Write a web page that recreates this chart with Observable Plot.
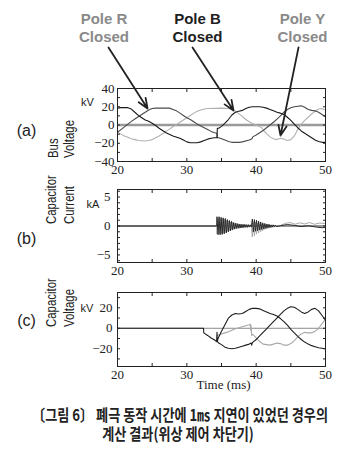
<!DOCTYPE html>
<html><head><meta charset="utf-8">
<script src="https://cdn.jsdelivr.net/npm/d3@7"></script>
<script src="https://cdn.jsdelivr.net/npm/@observablehq/plot@0.6"></script>
<style>
html,body{margin:0;padding:0;background:#fff;overflow:hidden;}
#fig{position:relative;width:356px;height:450px;overflow:hidden;background:#fff;}
.panel{position:absolute;left:0;}
.cap{position:absolute;left:0;width:356px;text-align:center;font-family:"Noto Sans CJK KR",sans-serif;font-weight:700;font-size:16px;line-height:19px;color:#222;transform:scaleX(0.82);transform-origin:center;white-space:nowrap;}
.vlab{position:absolute;font-family:'Liberation Sans',Arial,sans-serif;font-size:15px;line-height:15px;color:#222;white-space:nowrap;transform-origin:0 0;transform:rotate(-90deg) scaleX(0.76);}
</style></head><body><div id="fig"></div><script>
// ---------- data ----------
const timeTicks = [20, 30, 40, 50];
const timeMinor = [20, 25, 30, 35, 40, 45, 50];
const busTicks = [-40, -20, 0, 20, 40];
const busMinor = [-30, -20, -10, 0, 10, 20, 30];
const currentTicks = [-5, 0, 5];
const currentMinor = [-6, -5, -4, -3, -2, -1, 0, 1, 2, 3, 4, 5, 6];
const capTicks = [-20, 0, 20];
const capMinor = [-30, -20, -10, 0, 10, 20, 30];

// (a) bus voltage [ms, kV]
const busA = [[20,18.5],[20.5,19],[21.5,19],[22,17.5],[22.5,14],[23,10.5],[23.5,8],[24,5.5],[24.5,4],[25,2],[25.5,-0.5],[26,-3.5],[26.5,-6],[27,-8.5],[28,-12],[29,-14.5],[29.5,-16.5],[30,-18.5],[30.5,-19.5],[31.5,-19.5],[32,-18.5],[32.5,-17],[33,-15.5],[33.5,-14.5],[34,-14],[34.35,-14],[34.4,-3.5],[34.6,-3.5],[35,-1.5],[35.5,2],[36,6],[36.5,11],[37,14],[37.5,15],[38,16],[38.5,18],[39,19.5],[39.5,20],[40.5,20],[41,19.5],[41.5,18.5],[42,17],[42.5,15.5],[43,14],[43.5,13],[44,11.5],[44.5,8.5],[45,5],[45.5,1],[46,-3],[46.5,-6.5],[47,-9],[47.5,-11.5],[48,-14],[48.5,-16.5],[49,-18],[49.5,-19],[50,-19]];
const busB = [[20,-8],[20.5,-5],[21,-2],[21.5,1],[22,4],[22.5,6.5],[23,9],[23.5,11.5],[24,14],[24.5,16.5],[25,18],[25.5,18.5],[27.5,18.5],[28,17],[28.5,15.5],[29,13],[29.5,10.5],[30,8],[30.5,6],[31,3.5],[31.5,1],[32,-1],[32.5,-3],[33,-5],[33.5,-7],[34,-8.5],[34.35,-9],[34.4,-14],[34.6,-14],[35,-15],[35.5,-16.5],[36,-18],[36.5,-19],[37.5,-19],[38,-18.5],[39,-16.5],[39.4,-15],[39.5,-13],[40,-11],[40.5,-8.5],[41,-6],[41.5,-3],[42,0],[42.5,3],[43,6.5],[43.5,10],[44,14],[44.5,17],[45,19],[45.5,20],[46,20.5],[46.5,21],[47,19.5],[47.5,17],[48,16],[48.5,15.5],[49,14],[49.5,11.5],[50,9]];
const busC = [[20,-8],[20.5,-10],[21,-12],[21.5,-13.5],[22,-15],[22.5,-16],[23,-17],[24,-17.5],[24.5,-17],[25,-16],[25.5,-14],[26,-12],[26.5,-9.5],[27,-7],[27.5,-4.5],[28,-2],[28.5,0.5],[29,3],[29.5,5.5],[30,8],[30.5,10.5],[31,13],[31.5,15],[32,16.5],[32.5,17.5],[33,18],[35,18.5],[36,18],[36.5,17],[37,15],[37.5,12.5],[38,9.5],[38.5,6],[39,3.5],[39.5,1.5],[40,0],[40.5,-1.5],[40.8,-3],[41,-5.5],[41.5,-9.5],[42,-13],[42.5,-15],[43,-16],[43.5,-14.5],[44,-15.5],[44.5,-17],[45,-16],[45.5,-12],[46,-5],[46.5,1],[47,5],[47.5,8.5],[48,12],[48.5,15],[49,17.5],[49.5,18],[50,16.5]];

// (b) capacitor current, kA: quiet part, successive oscillation peaks, slow tail
const peakStep = 0.15; // ms between successive oscillation peaks
const burst1Start = 34.35, burst2Start = 39.45;
const iDarkBurst1 = [1.6,-1.5,1.6,-1.5,1.5,-1.45,1.4,-1.35,1.3,-1.2,1.1,-1.0,0.95,-0.85,0.8,-0.7,0.6,-0.55,0.5,-0.45,0.4,-0.4,0.35,-0.35,0.3,-0.3,0.3,-0.25,0.25,-0.25,0.25,-0.2,0.2,-0.15];
const iDarkBurst2 = [1.2,-1.0,1.1,-0.9,1.0,-0.8,0.85,-0.7,0.7,-0.6,0.55,-0.5,0.45,-0.4,0.35,-0.3,0.3,-0.25,0.2,-0.2,0.2,-0.15,0.15,-0.1];
const iDarkTail = [[43.5,0.05],[44.5,0.25],[45.5,0.1],[46.5,-0.1],[47.5,0.05],[48.5,-0.15],[49.5,-0.3],[50,-0.25]];
const iGrayBurst1 = [-1.4,1.3,-1.4,1.3,-1.3,1.25,-1.2,1.15,-1.1,1.0,-0.95,0.85,-0.8,0.7,-0.65,0.6,-0.5,0.45,-0.4,0.4,-0.35,0.3,-0.3,0.25,-0.25,0.2,-0.2,0.2,-0.15,0.15,-0.15,0.1,-0.1,0.1];
const iGrayBurst2 = [-1.9,0.7,-1.7,0.6,-1.4,0.5,-1.2,0.4,-1.0,0.35,-0.8,0.3,-0.6,0.25,-0.5,0.2,-0.4,0.15,-0.3,0.1,-0.2,0.1,-0.15,0.05];
const iGrayTail = [[43.5,0.1],[44.2,0.45],[44.9,0.6],[45.6,0.3],[46.3,0.55],[47,0.35],[47.7,0.6],[48.4,0.3],[49.1,0.5],[49.8,0.45],[50,0.4]];
const iQuiet = [[20,0],[34.3,0]];

// (c) capacitor voltage [ms, kV]
const capA = [[20,0],[32.4,0],[32.45,-4.5],[33,-7],[33.5,-9.5],[34,-11.5],[34.3,-13],[34.35,-4],[34.4,-13],[34.5,-10],[35,-3],[35.5,3.5],[36,10],[36.5,13],[37,14.5],[37.5,14],[38,14.5],[38.5,16.5],[39,18.5],[39.5,19.5],[40,19.5],[40.5,19],[41,17.5],[41.5,16],[42,14.5],[42.5,13.5],[43,12],[43.5,9.5],[44,6.5],[44.5,3],[45,-1],[45.5,-4.5],[46,-8],[46.5,-11],[47,-13.5],[47.5,-15.5],[48,-17],[48.5,-18],[49,-19],[49.5,-19.5],[50,-20]];
const capB = [[34.4,-13],[34.6,-14.5],[35,-16],[35.5,-18.5],[36,-19.5],[36.5,-20],[37,-19.5],[37.5,-18.5],[38,-17.5],[38.5,-16.5],[39,-15.5],[39.3,-14.5],[39.35,-16.5],[39.45,-14],[40,-11],[40.5,-7.5],[41,-4],[41.5,-0.5],[42,3],[42.5,6.5],[43,10],[43.5,13.5],[44,17],[44.5,19.5],[45,21],[45.5,20.5],[46,18.5],[46.5,16],[47,14.5],[47.5,16],[48,18.5],[48.5,19.5],[49,17],[49.5,12.5],[50,8]];
const capC = [[34.4,-7],[35,-5.5],[35.5,-4.5],[36,-3.5],[36.5,-2],[37,-0.5],[37.5,0.5],[38,1.5],[38.5,2.5],[39,3.5],[39.15,4],[39.2,-2],[39.25,3],[39.35,-7],[39.5,-6],[40,-9.5],[40.5,-13],[41,-15.5],[41.5,-16],[42,-16.5],[42.5,-15.5],[43,-14.5],[43.5,-15],[44,-16.5],[44.5,-16.5],[45,-15],[45.5,-12],[46,-8.5],[46.5,-5.5],[47,-4],[47.5,-4.5],[48,-4.5],[48.5,-3],[49,0],[49.5,4.5],[50,9]];

// pole-closing annotations (label / arrow start above the plot, arrow tip on the curve)
const poles = [
  {label: "Pole R\nClosed", color: "#8a8a8a", labelT: 18.05, fromT: 18.7, tipT: 24.33, tipV: 18.1},
  {label: "Pole B\nClosed", color: "#1e1e1e", labelT: 31.54, fromT: 30.82, tipT: 36.73, tipV: 15.9},
  {label: "Pole Y\nClosed", color: "#8a8a8a", labelT: 46.68, fromT: 46.11, tipT: 43.51, tipV: -11.5}
];
const poleLabelV = 91.5, poleArrowFromV = 85;

// ---------- helpers ----------
const serif = "'Liberation Serif','Times New Roman',serif";
const sans = "'Liberation Sans',Arial,sans-serif";
const ink = "#222";

function withPeaks(quiet, bursts, tail) {
  const out = quiet.slice();
  for (const [start, peaks] of bursts) peaks.forEach((v, i) => out.push([start + i * peakStep, v]));
  return out.concat(tail);
}
const currentDark = withPeaks(iQuiet, [[burst1Start, iDarkBurst1], [burst2Start, iDarkBurst2]], iDarkTail);
const currentGray = withPeaks(iQuiet, [[burst1Start, iGrayBurst1], [burst2Start, iGrayBurst2]], iGrayTail);

function frameMarks(yMinor) {
  return [
    Plot.frame({stroke: ink, strokeWidth: 1}),
    Plot.axisX(timeMinor, {anchor: "bottom", tickSize: 3, dy: -3, fill: "none", stroke: ink, label: null}),
    Plot.axisX(timeMinor, {anchor: "top", tickSize: 3, dy: 3, fill: "none", stroke: ink, label: null}),
    Plot.axisY(yMinor, {anchor: "left", tickSize: 3, dx: 3, fill: "none", stroke: ink, label: null}),
    Plot.axisY(yMinor, {anchor: "right", tickSize: 3, dx: -3, fill: "none", stroke: ink, label: null})
  ];
}
function tickLabels(yTicks, yPad) {
  return [
    Plot.axisX(timeTicks, {anchor: "bottom", tickSize: 0, tickPadding: 3, fontSize: 13, fontFamily: serif, fill: ink, label: null}),
    Plot.axisY(yTicks, {anchor: "left", tickSize: 0, tickPadding: yPad, fontSize: 13, fontFamily: serif, fill: ink, label: null})
  ];
}
function tagAndUnit(tag, unit) {
  return [
    Plot.text([tag.text], {frameAnchor: "left", dx: tag.dx, dy: tag.dy, fontSize: 16, fontFamily: sans, fill: ink, textAnchor: "middle", lineAnchor: "middle"}),
    Plot.text([unit.text], {frameAnchor: "top-left", dx: unit.dx, dy: unit.dy, fontSize: 11, fontFamily: sans, fill: ink, textAnchor: "middle", lineAnchor: "middle"})
  ];
}
const common = {width: 356, marginLeft: 117, marginRight: 31, x: {domain: [20, 50]}, style: {background: "transparent", fontFamily: serif, fontSize: "13px", color: ink, overflow: "visible"}};

// ---------- (a) ----------
const plotA = Plot.plot({
  ...common, height: 180, marginTop: 88, marginBottom: 19,
  y: {domain: [-40, 40]}, color: {type: "identity"},
  marks: [
    Plot.ruleY([0], {stroke: "#9a9a9a", strokeWidth: 2.5}),
    Plot.line(busC, {x: d => d[0], y: d => d[1], stroke: "#b0b0b0", strokeWidth: 1.1}),
    Plot.line(busB, {x: d => d[0], y: d => d[1], stroke: "#4a4a4a", strokeWidth: 1.1}),
    Plot.line(busA, {x: d => d[0], y: d => d[1], stroke: "#1a1a1a", strokeWidth: 1.1}),
    ...frameMarks(busMinor),
    ...tickLabels(busTicks, 3),
    ...tagAndUnit({text: "(a)", dx: -91, dy: 5.5}, {text: "kV", dx: -30, dy: 14}),
    Plot.arrow(poles, {x1: "fromT", y1: () => poleArrowFromV, x2: "tipT", y2: "tipV", stroke: "#222", strokeWidth: 1.8, headLength: 9, headAngle: 45}),
    Plot.text(poles, {x: "labelT", y: () => poleLabelV, text: "label", fill: "color", fontSize: 15, fontWeight: "bold", fontFamily: sans, lineAnchor: "bottom", lineHeight: 1.2, textAnchor: "middle"})
  ]
});

// ---------- (b) ----------
const plotB = Plot.plot({
  ...common, height: 100, marginTop: 9, marginBottom: 18,
  y: {domain: [-6.3, 6.3]},
  marks: [
    Plot.ruleY([0], {stroke: "#9a9a9a", strokeWidth: 2}),
    Plot.line(currentGray, {x: d => d[0], y: d => d[1], stroke: "#a8a8a8", strokeWidth: 1}),
    Plot.line(currentDark, {x: d => d[0], y: d => d[1], stroke: "#2a2a2a", strokeWidth: 1}),
    ...frameMarks(currentMinor),
    ...tickLabels(currentTicks, 7),
    ...tagAndUnit({text: "(b)", dx: -91, dy: 12.5}, {text: "kA", dx: -24.5, dy: 14.5})
  ]
});

// ---------- (c) ----------
const plotC = Plot.plot({
  ...common, height: 115, marginTop: 12, marginBottom: 29,
  y: {domain: [-37.4, 35]},
  marks: [
    Plot.ruleY([0], {stroke: "#8a8a8a", strokeWidth: 1}),
    Plot.line(capC, {x: d => d[0], y: d => d[1], stroke: "#a8a8a8", strokeWidth: 1.1}),
    Plot.line(capB, {x: d => d[0], y: d => d[1], stroke: "#1e1e1e", strokeWidth: 1.1}),
    Plot.line(capA, {x: d => d[0], y: d => d[1], stroke: "#1e1e1e", strokeWidth: 1.1}),
    ...frameMarks(capMinor),
    ...tickLabels(capTicks, 5),
    ...tagAndUnit({text: "(c)", dx: -91, dy: -9}, {text: "kV", dx: -30.5, dy: 15.5}),
    Plot.text(["Time (ms)"], {frameAnchor: "bottom", dx: 2, dy: 18, fontSize: 13, fontFamily: serif, fill: ink, lineAnchor: "middle"})
  ]
});

// ---------- layout ----------
const fig = document.getElementById("fig");
function place(node, top) {
  const d = document.createElement("div");
  d.className = "panel"; d.style.top = top + "px";
  d.appendChild(node); fig.appendChild(d);
}
place(plotA, 0);
place(plotB, 180);
place(plotC, 280);

// vertical panel titles: [text, baseline x, bottom y]
const panelTitles = [["Bus", 57, 158], ["Voltage", 73.5, 158], ["Capacitor", 55.5, 224], ["Current", 73.5, 224], ["Capacitor", 55.5, 327], ["Voltage", 73.5, 327]];
for (const [t, bx, by] of panelTitles) {
  const d = document.createElement("div");
  d.className = "vlab"; d.textContent = t;
  d.style.left = (bx - 12.5) + "px"; d.style.top = by + "px";
  fig.appendChild(d);
}

const captionLines = ["〔그림 6〕 폐극 동작 시간에 1㎳ 지연이 있었던 경우의", "계산 결과(위상 제어 차단기)"];
captionLines.forEach((t, i) => {
  const c = document.createElement("div");
  c.className = "cap"; c.style.top = (405 + i * 19) + "px"; c.textContent = t;
  fig.appendChild(c);
});
</script></body></html>
